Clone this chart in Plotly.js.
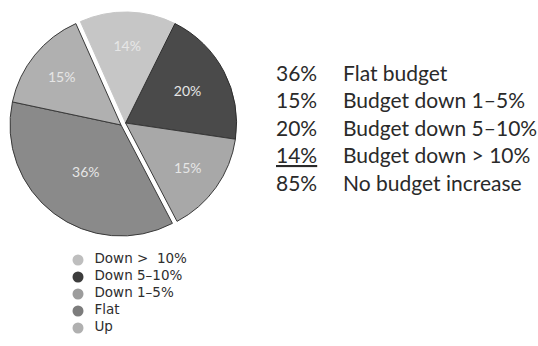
<!DOCTYPE html>
<html>
<head>
<meta charset="utf-8">
<script src="https://cdn.plot.ly/plotly-3.0.1.min.js"></script>
<style>html,body{margin:0;padding:0;background:#fff;}#chart{width:538px;height:346px;}</style>
</head>
<body>
<div id="chart"></div>
<script>
// Pie data (clockwise from top)
var sliceLabels = ['Down >  10%', 'Down 5–10%', 'Down 1–5%', 'Flat', 'Up'];
var sliceValues = [14, 20, 15, 36, 15];
var sliceColors = ['#c6c6c6', '#4a4a4a', '#a8a8a8', '#8a8a8a', '#b0b0b0'];
var sliceInRightHalf = [true, true, true, false, false];
var sliceEdgeColors = ['#c6c6c6', '#2e2e2e', '#3a3a3a', '#3a3a3a', '#3a3a3a'];

// Right-hand summary text
var summaryPercents = ['36%', '15%', '20%', '14%', '85%'];
var summaryLabels = ['Flat budget', 'Budget down 1–5%', 'Budget down 5–10%', 'Budget down > 10%', 'No budget increase'];
var summaryUnderline = [false, false, false, true, false];

// Legend entries (order shown)
var legendLabels = ['Down >  10%', 'Down 5–10%', 'Down 1–5%', 'Flat', 'Up'];
var legendColors = ['#bebebe', '#3c3c3c', '#9c9c9c', '#7c7c7c', '#b0b0b0'];

var W = 538, H = 346;
function px(x) { return x / W; }
function py(y) { return 1 - y / H; }

var R = 111;
function pieTrace(rightHalf, cx, cy) {
  var show = sliceInRightHalf.map(function (r) { return r === rightHalf; });
  return {
    type: 'pie',
    labels: sliceLabels,
    values: sliceValues,
    sort: false,
    direction: 'clockwise',
    rotation: -24,
    marker: {
      colors: sliceColors.map(function (c, i) { return show[i] ? c : 'rgba(0,0,0,0)'; }),
      line: {
        color: sliceEdgeColors.map(function (c, i) { return show[i] ? c : 'rgba(0,0,0,0)'; }),
        width: show.map(function (s) { return s ? 1 : 0; })
      }
    },
    texttemplate: show.map(function (s) { return s ? '%{value}%' : ''; }),
    textposition: 'inside',
    insidetextorientation: 'horizontal',
    textfont: { family: 'Lato, sans-serif', size: 14, color: '#e6e6e6' },
    showlegend: false,
    hoverinfo: 'none',
    domain: { x: [px(cx - R), px(cx + R)], y: [py(cy + R), py(cy - R)] }
  };
}

var legendIndex = legendLabels.map(function (_, i) { return i; });
var traces = [
  pieTrace(false, 121, 125),
  pieTrace(true, 125.6, 123),
  {
    type: 'scatter', mode: 'markers+text',
    x: legendLabels.map(function () { return 0; }),
    y: legendIndex,
    text: legendLabels.map(function (l) { return '  ' + l; }),
    textposition: 'middle right',
    textfont: { family: 'DejaVu Sans, sans-serif', size: 13.5, color: '#2e2e2e' },
    marker: { symbol: 'circle', size: 11, color: legendColors },
    cliponaxis: false, showlegend: false, hoverinfo: 'none',
    xaxis: 'x', yaxis: 'y'
  }
];

var annotations = [];
summaryPercents.forEach(function (p, i) {
  var yc = 72 + i * 27.6;
  annotations.push({
    xref: 'paper', yref: 'paper', x: px(274), y: py(yc),
    xanchor: 'left', yanchor: 'middle', showarrow: false,
    text: summaryUnderline[i] ? '<u>' + p + '</u>' : p,
    font: { family: 'Lato, sans-serif', size: 21, color: '#2a2a2a' }
  });
  annotations.push({
    xref: 'paper', yref: 'paper', x: px(341), y: py(yc),
    xanchor: 'left', yanchor: 'middle', showarrow: false,
    text: summaryLabels[i],
    font: { family: 'Lato, sans-serif', size: 21, color: '#2a2a2a' }
  });
});

var layout = {
  width: W, height: H,
  margin: { l: 0, r: 0, t: 0, b: 0 },
  paper_bgcolor: '#fff', plot_bgcolor: 'rgba(0,0,0,0)',
  xaxis: { visible: false, range: [0, 1], domain: [px(78), px(200)], fixedrange: true },
  yaxis: { visible: false, range: [4.5, -0.5], domain: [py(336.5), py(251.5)], fixedrange: true },
  showlegend: false,
  annotations: annotations
};

Plotly.newPlot('chart', traces, layout, { displayModeBar: false, staticPlot: true });
</script>
</body>
</html>
